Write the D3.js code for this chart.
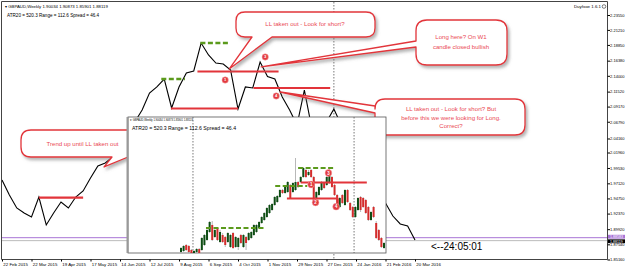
<!DOCTYPE html>
<html>
<head>
<meta charset="utf-8">
<script src="https://cdn.jsdelivr.net/npm/d3@7"></script>
<style>
body { margin: 0; background: #fff; }
svg { display: block; font-family: "Liberation Sans", Arial, sans-serif; }
</style>
</head>
<body>
<svg id="chart" width="625" height="271"></svg>
<script>
// ---- data ----
const priceTicks = [2.23550, 2.21210, 2.18850, 2.16380, 2.14000, 2.11520, 2.09170, 2.06790,
    2.04160, 2.01960, 1.99530, 1.97120, 1.94750, 1.92370, 1.89920, 1.87540, 1.85160];
const dateLabels = ["22 Feb 2015", "22 Mar 2015", "19 Apr 2015", "17 May 2015", "14 Jun 2015",
    "12 Jul 2015", "9 Aug 2015", "6 Sep 2015", "4 Oct 2015", "1 Nov 2015", "29 Nov 2015",
    "27 Dec 2015", "24 Jan 2016", "21 Feb 2016", "20 Mar 2016"];
// weekly closes from 22 Feb 2015
const weeklyClose = [1.9764, 1.9529, 1.9325, 1.9246, 1.9183, 1.9497, 1.9058, 1.9246, 1.9419, 1.9325,
    1.9497, 1.9592, 1.9796, 1.9984, 2.0031, 2.0125, 2.0314, 2.0518, 2.0675, 2.0863,
    2.1130, 2.1225, 2.1350, 2.0895, 2.1225, 2.1444, 2.1476, 2.1915, 2.1727, 2.1601,
    2.1586, 2.1491, 2.0879, 2.1225, 2.1209, 2.1617, 2.1389, 2.1350, 2.1068, 2.0863,
    2.0628, 2.1177, 2.0581, 2.0471, 2.0675, 2.0879, 2.0628, 2.0302, 2.0119, 1.9924,
    1.9718, 1.9556, 1.9403, 1.9199, 1.9074, 1.9042, 1.8822];
const bidPrice = 1.88119;
const askPrice = 1.88583;
const yearStarts = [45];   // week index of the period separator

// levels drawn on the weekly line chart: [fromWeek, toWeek, price]
const redLevels = [[26.5, 37.5, 2.1468], [22.9, 32.0, 2.0887], [34.1, 44.5, 2.1209], [5.0, 11.0, 1.9487]];
const greenLevels = [[21.6, 24.8, 2.1350], [26.9, 30.9, 2.1915]];
const mainMarks = [["1", 30.26, 2.1334], ["3", 35.69, 2.1696], ["4", 37.18, 2.1083]];

// inset candles [open, high, low, close]
const insetCandles = [
    [1.740, 1.765, 1.735, 1.760], [1.745, 1.775, 1.740, 1.770], [1.775, 1.780, 1.745, 1.750], [1.770, 1.775, 1.735, 1.740],
    [1.750, 1.755, 1.730, 1.735], [1.735, 1.750, 1.730, 1.745], [1.740, 1.760, 1.735, 1.755], [1.755, 1.760, 1.730, 1.735],
    [1.750, 1.815, 1.745, 1.810], [1.775, 1.830, 1.770, 1.825], [1.800, 1.855, 1.795, 1.850], [1.840, 1.895, 1.835, 1.890],
    [1.875, 1.895, 1.795, 1.800], [1.815, 1.860, 1.810, 1.850], [1.860, 1.865, 1.795, 1.800], [1.790, 1.850, 1.785, 1.840],
    [1.825, 1.835, 1.785, 1.790], [1.815, 1.820, 1.765, 1.775], [1.790, 1.840, 1.785, 1.835], [1.765, 1.830, 1.760, 1.825],
    [1.835, 1.840, 1.755, 1.760], [1.765, 1.820, 1.760, 1.815], [1.765, 1.815, 1.750, 1.810], [1.825, 1.830, 1.780, 1.785],
    [1.765, 1.830, 1.760, 1.825], [1.815, 1.820, 1.750, 1.785], [1.800, 1.840, 1.795, 1.835], [1.810, 1.845, 1.805, 1.840],
    [1.825, 1.880, 1.820, 1.875], [1.840, 1.880, 1.835, 1.875], [1.860, 1.895, 1.855, 1.890], [1.885, 1.920, 1.880, 1.915],
    [1.900, 1.940, 1.895, 1.935], [1.915, 1.965, 1.910, 1.960], [1.935, 1.980, 1.930, 1.975], [1.950, 1.985, 1.945, 1.980],
    [1.975, 2.020, 1.970, 2.015], [1.990, 2.025, 1.985, 2.020], [2.015, 2.055, 2.010, 2.050], [2.050, 2.055, 2.030, 2.035],
    [2.035, 2.070, 2.030, 2.065], [2.040, 2.095, 2.035, 2.090], [2.075, 2.080, 2.005, 2.010], [2.040, 2.090, 2.035, 2.085],
    [2.050, 2.210, 2.045, 2.090], [2.090, 2.095, 2.060, 2.065], [2.090, 2.120, 2.085, 2.115], [2.115, 2.165, 2.110, 2.160],
    [2.150, 2.155, 2.110, 2.115], [2.125, 2.150, 2.120, 2.140], [2.150, 2.155, 2.110, 2.115], [2.115, 2.120, 1.995, 2.000],
    [2.010, 2.045, 2.005, 2.040], [2.025, 2.070, 2.020, 2.065], [2.050, 2.095, 2.045, 2.090], [2.085, 2.090, 2.055, 2.060],
    [2.075, 2.120, 2.070, 2.115], [2.085, 2.155, 2.080, 2.150], [2.115, 2.120, 2.060, 2.065], [2.075, 2.080, 2.020, 2.025],
    [2.025, 2.030, 1.965, 1.975], [1.965, 2.015, 1.960, 2.010], [2.025, 2.030, 1.980, 1.985], [1.975, 2.055, 1.970, 2.050],
    [2.050, 2.055, 1.985, 1.990], [1.985, 1.990, 1.945, 1.950], [1.965, 1.970, 1.910, 1.915], [1.915, 1.970, 1.910, 1.965],
    [1.950, 2.015, 1.945, 2.010], [2.015, 2.020, 1.940, 1.950], [2.010, 2.015, 1.960, 1.965], [2.000, 2.005, 1.930, 1.935],
    [1.965, 1.970, 1.895, 1.900], [1.900, 1.945, 1.895, 1.940], [1.965, 1.970, 1.910, 1.915], [1.885, 1.895, 1.805, 1.810],
    [1.850, 1.855, 1.795, 1.800], [1.810, 1.815, 1.760, 1.765], [1.760, 1.790, 1.755, 1.785]
];
const insetSeparators = [4.6, 66.5];
// [fromBar, toBar, price]
const insetGreen = [[9.6, 32.3, 1.860], [36.2, 48.5, 2.070], [45.0, 58.5, 2.160]];
const insetRed = [[46.0, 71.4, 2.0875], [40.7, 60.4, 2.0075]];
const insetMarks = [["1", 50.0, 2.0775], ["2", 51.7, 1.9875], ["3", 56.65, 2.135], ["4", 59.6, 1.9665]];

const RED = "#e2343a";
const TXT_RED = "#ea4a55";
const GREEN = "#5b9a1c";

const svg = d3.select("#chart");

// drop shadow for the callouts
const defs = svg.append("defs");
defs.append("filter").attr("id", "shadow").attr("x", "-20%").attr("y", "-20%").attr("width", "140%").attr("height", "160%")
    .append("feDropShadow").attr("dx", 2).attr("dy", 2.5).attr("stdDeviation", 1.6)
    .attr("flood-color", "#777").attr("flood-opacity", 0.55);
defs.append("clipPath").attr("id", "insetClip")
    .append("rect").attr("x", 128).attr("y", 117).attr("width", 258).attr("height", 136);
defs.append("clipPath").attr("id", "mainClip")
    .append("rect").attr("x", 2).attr("y", 2).attr("width", 605).attr("height", 257);

// ---- main weekly line chart ----
const parseDay = d3.timeParse("%d %b %Y");
const WEEK = 7 * 864e5;
const start = parseDay(dateLabels[0]);
const weekDate = w => new Date(+start + w * WEEK);

const x = d3.scaleTime().domain([start, parseDay(dateLabels[dateLabels.length - 1])]).range([2, 415]);
const y = d3.scaleLinear().domain([1.8516, 2.2355]).range([259.5, 15]);
const xw = w => x(weekDate(w));

svg.append("rect").attr("x", 0).attr("y", 0).attr("width", 625).attr("height", 271).attr("fill", "#fff");

const main = svg.append("g").attr("clip-path", "url(#mainClip)");

// period separator
main.selectAll(".sep").data(yearStarts).enter().append("line")
    .attr("x1", d => xw(d)).attr("x2", d => xw(d)).attr("y1", 2).attr("y2", 259)
    .attr("stroke", "#555").attr("stroke-width", 0.8).attr("stroke-dasharray", "1.5,1.5");

// ask / bid lines
main.append("line").attr("x1", 2).attr("x2", 607).attr("y1", y(askPrice)).attr("y2", y(askPrice))
    .attr("stroke", "#a874d6").attr("stroke-width", 1);
main.append("line").attr("x1", 2).attr("x2", 607).attr("y1", y(bidPrice)).attr("y2", y(bidPrice))
    .attr("stroke", "#bbb").attr("stroke-width", 1);

main.append("path").datum(weeklyClose)
    .attr("fill", "none").attr("stroke", "#000").attr("stroke-width", 1.1)
    .attr("d", d3.line().x((d, i) => xw(i)).y(d => y(d)));

main.selectAll(".lvl").data(redLevels).enter().append("line")
    .attr("x1", d => xw(d[0])).attr("x2", d => xw(d[1]))
    .attr("y1", d => y(d[2])).attr("y2", d => y(d[2]))
    .attr("stroke", RED).attr("stroke-width", 2.2);
main.selectAll(".glvl").data(greenLevels).enter().append("line")
    .attr("x1", d => xw(d[0])).attr("x2", d => xw(d[1]))
    .attr("y1", d => y(d[2])).attr("y2", d => y(d[2]))
    .attr("stroke", GREEN).attr("stroke-width", 2.4).attr("stroke-dasharray", "5,2.5");

function marks(g, data, fx, fy, r) {
    const m = g.selectAll(null).data(data).enter().append("g")
        .attr("transform", d => `translate(${fx(d[1])},${fy(d[2])})`);
    m.append("circle").attr("r", r).attr("fill", "#e23a3f").attr("stroke", "#f6b0b0").attr("stroke-width", 0.5);
    m.append("text").text(d => d[0]).attr("text-anchor", "middle").attr("dy", r * 0.45)
        .attr("font-size", r * 1.3).attr("font-weight", "bold").attr("fill", "#fff");
}
marks(main, mainMarks, xw, y, 3.2);

// ---- callouts ----
function bubble(b) {
    const { x0, y0, w, h, r } = b;
    const x1 = x0 + w, y1 = y0 + h;
    let p;
    if (b.side === "bottom") {
        p = `M${x0 + r},${y0}H${x1 - r}Q${x1},${y0} ${x1},${y0 + r}V${y1 - r}Q${x1},${y1} ${x1 - r},${y1}` +
            `H${b.b1}L${b.tx},${b.ty}L${b.b0},${y1}H${x0 + r}Q${x0},${y1} ${x0},${y1 - r}V${y0 + r}Q${x0},${y0} ${x0 + r},${y0}Z`;
    } else {
        p = `M${x0 + r},${y0}H${x1 - r}Q${x1},${y0} ${x1},${y0 + r}V${y1 - r}Q${x1},${y1} ${x1 - r},${y1}` +
            `H${x0 + r}Q${x0},${y1} ${x0},${y1 - r}V${b.b1}L${b.tx},${b.ty}L${x0},${b.b0}V${y0 + r}Q${x0},${y0} ${x0 + r},${y0}Z`;
    }
    const g = svg.append("g");
    g.append("path").attr("d", p).attr("fill", "#fff").attr("stroke", RED).attr("stroke-width", 1.3)
        .attr("stroke-linejoin", "round").attr("filter", "url(#shadow)");
    g.selectAll("text").data(b.lines).enter().append("text")
        .attr("x", b.cx).attr("y", (d, i) => b.cy + (i - (b.lines.length - 1) / 2) * b.lh)
        .attr("dy", "0.35em").attr("text-anchor", "middle")
        .attr("font-size", b.fs).attr("fill", TXT_RED).text(d => d);
}

const tip1 = [xw(30.8), y(2.1507)], tip2 = [xw(35.14), y(2.1539)], tip3 = [xw(37.72), y(2.1146)], tip4 = [xw(13.84), y(1.9969)];
bubble({ x0: 21, y0: 130, w: 130, h: 27, r: 10, side: "bottom", b0: 112, b1: 128, tx: tip4[0], ty: tip4[1],
    cx: 82.5, cy: 143.5, lh: 8, fs: 6.1, lines: ["Trend up until LL taken out"] });
bubble({ x0: 236, y0: 12, w: 139, h: 25, r: 9, side: "bottom", b0: 252, b1: 272, tx: tip1[0], ty: tip1[1],
    cx: 305, cy: 24, lh: 8, fs: 6.1, lines: ["LL taken out - Look for short?"] });
bubble({ x0: 416, y0: 20, w: 91, h: 45, r: 11, side: "left", b0: 41, b1: 47, tx: tip2[0], ty: tip2[1],
    cx: 461, cy: 42, lh: 9.4, fs: 6.1, lines: ["Long here? On W1", "candle closed bullish"] });
bubble({ x0: 375, y0: 99, w: 150, h: 36, r: 10, side: "left", b0: 106, b1: 113, tx: tip3[0], ty: tip3[1],
    cx: 451, cy: 117.5, lh: 8.6, fs: 6.1, lines: ["LL taken out - Look for short? But", "before this we were looking for Long.", "Correct?"] });

// ---- frame and axes ----
svg.append("path").attr("d", "M1.5,259.5V1.5H607.5V259.5H1.5").attr("fill", "none").attr("stroke", "#444").attr("stroke-width", 1);

const yAxis = d3.axisRight(y).tickValues(priceTicks).tickSize(2.5).tickFormat(d3.format(".5f"));
svg.append("g").attr("transform", "translate(607.5,0)").call(yAxis)
    .attr("font-size", 4.0).attr("font-family", null)
    .call(g => g.select(".domain").remove())
    .call(g => g.selectAll("line").attr("stroke", "#000"))
    .call(g => g.selectAll("text").attr("x", 2.6).attr("fill", "#000"));

const xAxis = d3.axisBottom(x).tickValues(dateLabels.map(parseDay)).tickSize(2).tickFormat(d3.timeFormat("%-d %b %Y"));
svg.append("g").attr("transform", "translate(0,259.5)").call(xAxis)
    .attr("font-size", 4.4).attr("font-family", null)
    .call(g => g.select(".domain").remove())
    .call(g => g.selectAll("line").attr("stroke", "#000"))
    .call(g => g.selectAll("text").attr("text-anchor", "start").attr("x", 0.8).attr("y", 3).attr("fill", "#000"));

// price labels for ask and bid
[[askPrice, "#a874d6", "#fff", -1], [bidPrice, "#000", "#fff", 0.6]].forEach(([p, bg, fg, dy]) => {
    svg.append("rect").attr("x", 608).attr("y", y(p) + dy - 1.9).attr("width", 17).attr("height", 3.8).attr("fill", bg);
    svg.append("text").attr("x", 610).attr("y", y(p) + dy).attr("dy", "0.35em").attr("font-size", 3.6)
        .attr("fill", fg).text(p.toFixed(5));
});

// header texts
svg.append("text").attr("x", 5).attr("y", 6).attr("dy", "0.35em").attr("font-size", 4.3).attr("fill", "#000")
    .text("\u25BE GBPAUD,Weekly  1.90034 1.90873 1.85901 1.88119");
svg.append("text").attr("x", 7).attr("y", 15).attr("dy", "0.35em").attr("font-size", 4.6).attr("fill", "#000")
    .text("ATR20 = 520.3 Range = 112.6 Spread = 46.4");
svg.append("text").attr("x", 601).attr("y", 6.5).attr("dy", "0.35em").attr("text-anchor", "end")
    .attr("font-size", 4.4).attr("fill", "#000").text("Duyfxoe 1.6.1");
svg.append("circle").attr("cx", 604).attr("cy", 6.5).attr("r", 1.8).attr("fill", "none").attr("stroke", "#000").attr("stroke-width", 0.5);

svg.append("text").attr("x", 431).attr("y", 246).attr("dy", "0.35em").attr("font-size", 10)
    .attr("fill", "#000").text("<--24:05:01");

// ---- inset candlestick chart ----
const xi = d3.scaleLinear().domain([0, insetCandles.length - 1]).range([181, 384]);
const yi = d3.scaleLinear().domain([1.70, 2.30]).range([260, 140]);

svg.append("rect").attr("x", 128).attr("y", 117).attr("width", 258).attr("height", 136)
    .attr("fill", "#fff").attr("stroke", "#555").attr("stroke-width", 0.8);
svg.append("line").attr("x1", 127.5).attr("x2", 127.5).attr("y1", 117).attr("y2", 253)
    .attr("stroke", "#999").attr("stroke-width", 2);

const inset = svg.append("g").attr("clip-path", "url(#insetClip)");
inset.selectAll(".isep").data(insetSeparators).enter().append("line")
    .attr("x1", d => xi(d)).attr("x2", d => xi(d)).attr("y1", 117).attr("y2", 253)
    .attr("stroke", "#555").attr("stroke-width", 0.8).attr("stroke-dasharray", "1.5,1.5");

const candle = inset.selectAll(".c").data(insetCandles).enter().append("g");
candle.append("line")
    .attr("x1", (d, i) => xi(i)).attr("x2", (d, i) => xi(i))
    .attr("y1", d => yi(d[1])).attr("y2", d => yi(d[2]))
    .attr("stroke", "#888").attr("stroke-width", 0.6);
candle.append("rect")
    .attr("x", (d, i) => xi(i) - 1).attr("width", 2)
    .attr("y", d => yi(Math.max(d[0], d[3])))
    .attr("height", d => Math.max(0.8, Math.abs(yi(d[0]) - yi(d[3]))))
    .attr("fill", d => d[3] >= d[0] ? "#0e4d14" : "#d42c2c");

inset.selectAll(".ig").data(insetGreen).enter().append("line")
    .attr("x1", d => xi(d[0])).attr("x2", d => xi(d[1]))
    .attr("y1", d => yi(d[2])).attr("y2", d => yi(d[2]))
    .attr("stroke", GREEN).attr("stroke-width", 2).attr("stroke-dasharray", "5,2.5");
inset.selectAll(".ir").data(insetRed).enter().append("line")
    .attr("x1", d => xi(d[0])).attr("x2", d => xi(d[1]))
    .attr("y1", d => yi(d[2])).attr("y2", d => yi(d[2]))
    .attr("stroke", RED).attr("stroke-width", 1.8);
// short drop at the end of the lower level
inset.append("line").attr("x1", xi(insetRed[1][1])).attr("x2", xi(insetRed[1][1]))
    .attr("y1", yi(insetRed[1][2])).attr("y2", yi(1.97)).attr("stroke", RED).attr("stroke-width", 1.2);
marks(inset, insetMarks, xi, yi, 3.4);

svg.append("text").attr("x", 130).attr("y", 120.5).attr("dy", "0.35em").attr("font-size", 2.6).attr("fill", "#000")
    .text("\u25BE GBPAUD,Weekly  1.90034 1.90873 1.85901 1.88119");
svg.append("text").attr("x", 132).attr("y", 128.5).attr("dy", "0.35em").attr("font-size", 5.2).attr("fill", "#000")
    .text("ATR20 = 520.3 Range = 112.6 Spread = 46.4");
</script>
</body>
</html>
